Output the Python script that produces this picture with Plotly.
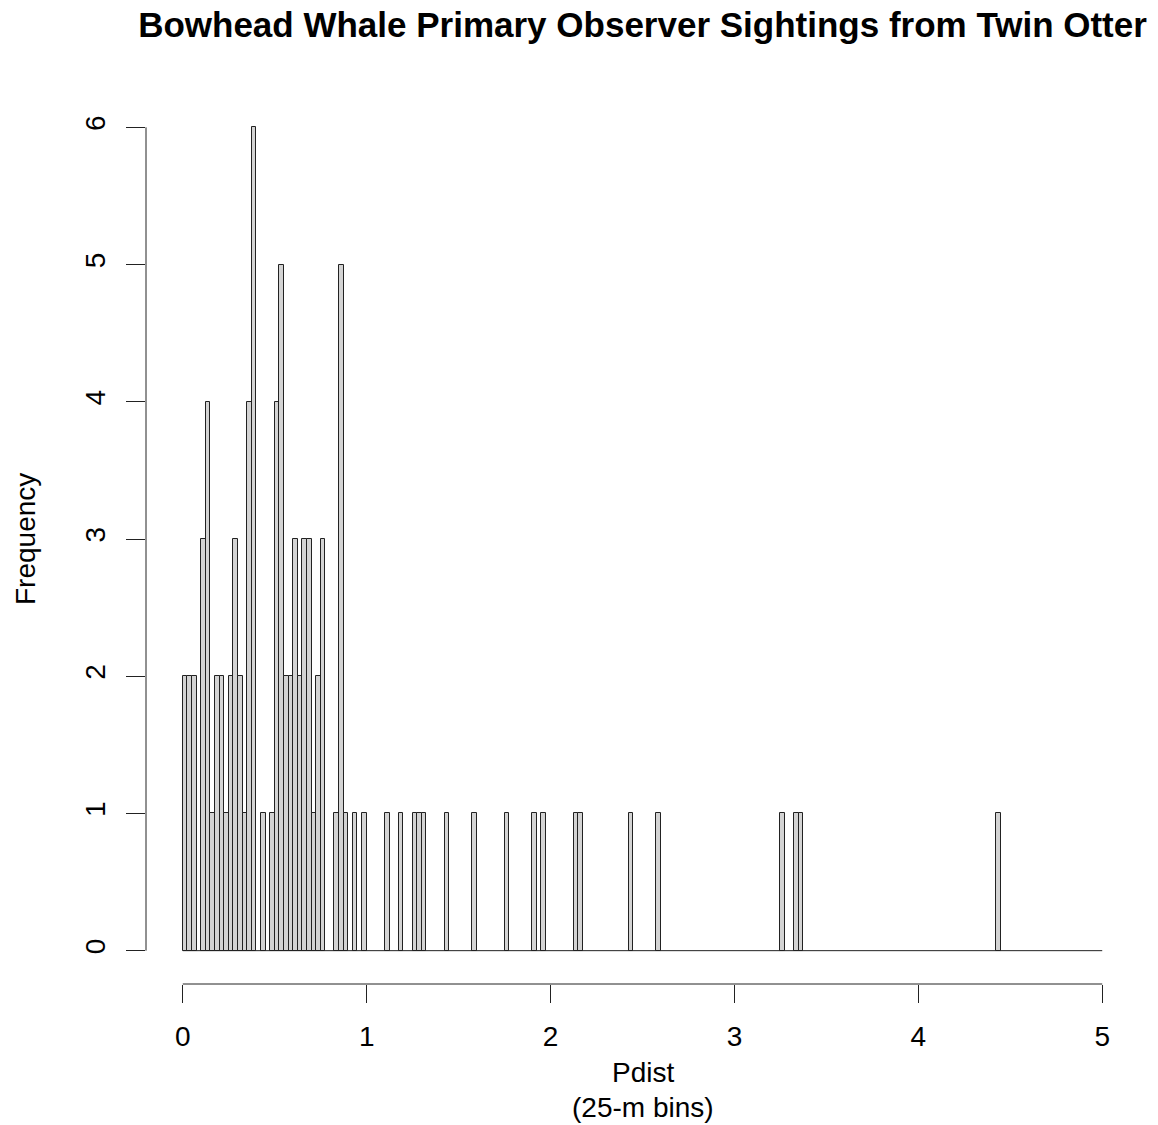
import plotly.graph_objects as go

# Histogram of Pdist (km), 25-m bins; only non-empty bins listed
bin_width_m = 25
bin_left_m = [0, 25, 50, 100, 125, 150, 175, 200, 225, 250, 275, 300, 325, 350, 375,
              425, 475, 500, 525, 550, 575, 600, 625, 650, 675, 700, 725, 750,
              825, 850, 875, 925, 975, 1100, 1175, 1250, 1275, 1300, 1425, 1575,
              1750, 1900, 1950, 2125, 2150, 2425, 2575, 3250, 3325, 3350, 4425]
counts = [2, 2, 2, 3, 4, 1, 2, 2, 1, 2, 3, 2, 1, 4, 6,
          1, 1, 4, 5, 2, 2, 3, 2, 3, 3, 1, 2, 3,
          1, 5, 1, 1, 1, 1, 1, 1, 1, 1, 1, 1,
          1, 1, 1, 1, 1, 1, 1, 1, 1, 1, 1]
hist_range_km = [0, 5]
x_ticks = [0, 1, 2, 3, 4, 5]
y_ticks = [0, 1, 2, 3, 4, 5, 6]

title = "Bowhead Whale Primary Observer Sightings from Twin Otter"
x_label = "Pdist"
x_sublabel = "(25-m bins)"
y_label = "Frequency"

FONT = "Liberation Sans, Arial, Helvetica, sans-serif"
W, H = 1158, 1125
L, R_, T, B = 146, 19, 94, 141

bw = bin_width_m / 1000.0
centers = [(m + bin_width_m / 2) / 1000.0 for m in bin_left_m]

fig = go.Figure()
# baseline formed by empty bins over the histogram range
fig.add_trace(go.Scatter(x=hist_range_km, y=[0, 0], mode="lines",
                         line=dict(color="#222222", width=1), hoverinfo="skip",
                         showlegend=False))
fig.add_trace(go.Bar(x=centers, y=counts, width=bw,
                     marker=dict(color="#d3d3d3", line=dict(color="#222222", width=1)),
                     showlegend=False))

ymin, ymax = y_ticks[0], y_ticks[-1]
xmin, xmax = x_ticks[0], x_ticks[-1]
xpad = 0.04 * (xmax - xmin)
ypad = 0.0405 * (ymax - ymin)

fig.update_layout(
    width=W, height=H,
    margin=dict(l=L, r=R_, t=T, b=B),
    paper_bgcolor="white", plot_bgcolor="white",
    font=dict(family=FONT, size=28, color="black"),
    title=dict(text="<b>" + title + "</b>", x=0.5, xref="paper",
               y=1 - 25 / H, yref="container", yanchor="middle", xanchor="center",
               font=dict(family=FONT, size=35, color="black")),
    xaxis=dict(range=[xmin - xpad, xmax + xpad], tickvals=x_ticks,
               ticktext=[str(v) for v in x_ticks],
               ticks="outside", ticklen=18, tickwidth=1, tickcolor="#222222",
               showgrid=False, zeroline=False, showline=False,
               ticklabelstandoff=9, tickfont=dict(size=28)),
    yaxis=dict(range=[ymin - ypad, ymax + ypad], tickvals=y_ticks,
               ticktext=[str(v) for v in y_ticks], tickangle=-90,
               ticks="outside", ticklen=19, tickwidth=1, tickcolor="#222222",
               showgrid=False, zeroline=False, showline=False,
               ticklabelstandoff=10, tickfont=dict(size=28)),
    bargap=0,
    shapes=[
        dict(type="line", xref="x", yref="paper", x0=xmin, x1=xmax, y0=0, y1=0,
             line=dict(color="#222222", width=1)),
        dict(type="line", xref="paper", yref="y", x0=0, x1=0, y0=ymin, y1=ymax,
             line=dict(color="#222222", width=1)),
    ],
    annotations=[
        dict(text=x_label, xref="paper", yref="paper", x=0.5,
             y=-(1072 - (H - B)) / (H - B - T), showarrow=False,
             xanchor="center", yanchor="middle", font=dict(size=28)),
        dict(text=x_sublabel, xref="paper", yref="paper", x=0.5,
             y=-(1107 - (H - B)) / (H - B - T), showarrow=False,
             xanchor="center", yanchor="middle", font=dict(size=28)),
        dict(text=y_label, xref="paper", yref="paper",
             x=-(L - 25) / (W - L - R_), y=0.5, textangle=-90, showarrow=False,
             xanchor="center", yanchor="middle", font=dict(size=28)),
    ],
)

fig.write_html("out.html")
